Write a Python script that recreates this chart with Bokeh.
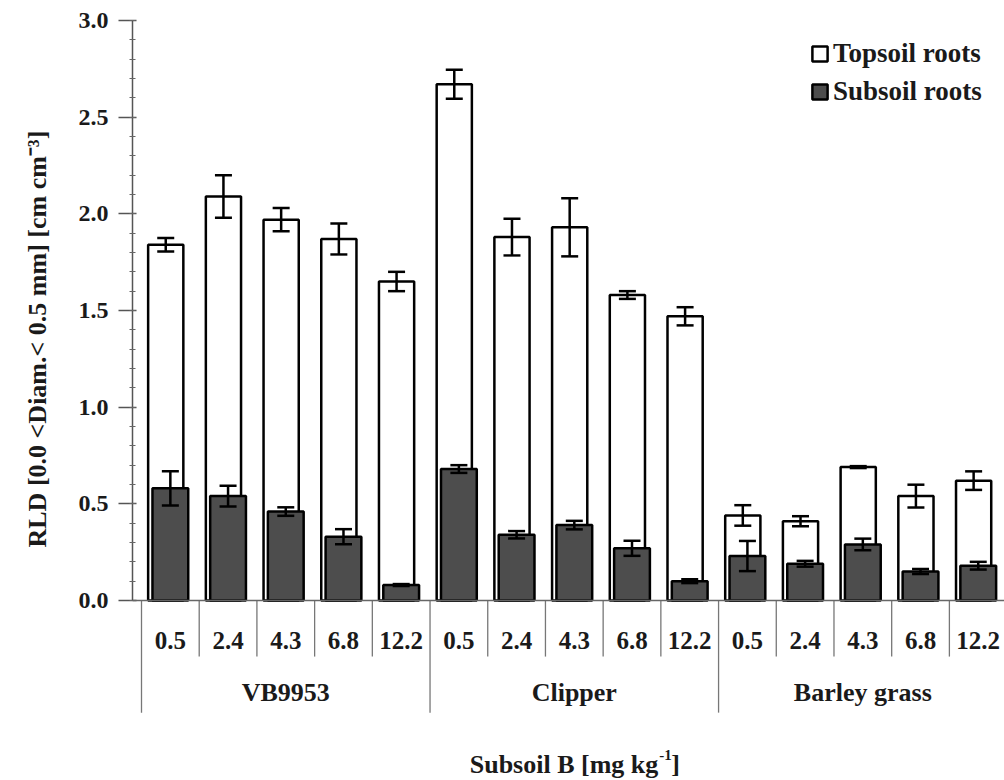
import numpy as np
from bokeh.plotting import figure
from bokeh.models import (Range1d, SingleIntervalTicker, NumeralTickFormatter, Span,
                          Whisker, TeeHead, ColumnDataSource, Legend, LegendItem, Title)
from bokeh.core.properties import value
from bokeh.embed import file_html
from bokeh.resources import INLINE

# Root length density (RLD) by cultivar and subsoil boron level
cultivars = ["VB9953", "Clipper", "Barley grass"]
b_levels = ["0.5", "2.4", "4.3", "6.8", "12.2"]

subsoil_vb9953 = [0.58, 0.54, 0.46, 0.33, 0.08]
subsoil_clipper = [0.68, 0.34, 0.39, 0.27, 0.10]
subsoil_barley = [0.23, 0.19, 0.29, 0.15, 0.18]

topsoil_vb9953 = [1.26, 1.55, 1.51, 1.54, 1.57]
topsoil_clipper = [1.99, 1.54, 1.54, 1.31, 1.37]
topsoil_barley = [0.21, 0.22, 0.40, 0.39, 0.44]

# standard errors of the whole-profile totals and of the subsoil part
se_total_vb9953 = [0.035, 0.11, 0.06, 0.08, 0.05]
se_total_clipper = [0.075, 0.095, 0.15, 0.02, 0.047]
se_total_barley = [0.053, 0.026, 0.005, 0.059, 0.048]

se_subsoil_vb9953 = [0.088, 0.054, 0.022, 0.039, 0.005]
se_subsoil_clipper = [0.02, 0.019, 0.022, 0.039, 0.01]
se_subsoil_barley = [0.078, 0.015, 0.03, 0.013, 0.02]

SERIF = "Liberation Serif"
INK = "#1a1a1a"
DARK = "#4d4d4d"

sub = np.array(subsoil_vb9953 + subsoil_clipper + subsoil_barley)
top = np.array(topsoil_vb9953 + topsoil_clipper + topsoil_barley)
total = sub + top
se_tot = np.array(se_total_vb9953 + se_total_clipper + se_total_barley)
se_sub = np.array(se_subsoil_vb9953 + se_subsoil_clipper + se_subsoil_barley)

n_lev = len(b_levels)
idx = np.arange(len(cultivars) * n_lev, dtype=float)
level_labels = b_levels * len(cultivars)
white_shift = -0.08

src = ColumnDataSource(dict(
    x=idx, xw=idx + white_shift, sub=sub, total=total,
    tot_lo=total - se_tot, tot_hi=total + se_tot,
    sub_lo=sub - se_sub, sub_hi=sub + se_sub,
))

p = figure(width=1004, height=780,
           x_range=Range1d(-0.656, 14.455), y_range=Range1d(-0.931, 3.1034),
           x_axis_type=None, output_backend="svg", toolbar_location=None,
           min_border_left=132, min_border_right=0, min_border_top=0, min_border_bottom=0)
p.ygrid.visible = False
p.outline_line_color = None
p.background_fill_color = "white"

# y axis
ax = p.yaxis[0]
ax.ticker = SingleIntervalTicker(interval=0.5, num_minor_ticks=5)
ax.formatter = NumeralTickFormatter(format="0.0")
ax.bounds = (0, 3)
ax.axis_line_color = "#555555"
ax.axis_line_width = 1.5
ax.major_tick_line_color = "#555555"
ax.major_tick_line_width = 1.5
ax.major_tick_out = 14
ax.major_tick_in = 4
ax.minor_tick_line_color = "#666666"
ax.minor_tick_line_width = 1.2
ax.minor_tick_out = 3
ax.minor_tick_in = 3
ax.major_label_standoff = 10
ax.major_label_text_font = SERIF
ax.major_label_text_font_style = "bold"
ax.major_label_text_font_size = "24px"
ax.major_label_text_color = INK

# y axis title, set in the left margin
p.add_layout(Title(text="RLD [0.0 <Diam.< 0.5 mm] [cm cm\u207b\u00b3]", align="left",
                   vertical_align="top", offset=233, standoff=44,
                   text_font=SERIF, text_font_style="bold",
                   text_font_size="26px", text_color=INK), "left")

# baseline
p.add_layout(Span(location=0, dimension="width", line_color="#666666", line_width=1.5))

# category separators below the baseline
bounds_x = np.arange(-0.5, len(idx) + 0.5, 1.0)
is_group = [(b + 0.5) % n_lev == 0 for b in bounds_x]
p.segment(x0=bounds_x, x1=bounds_x, y0=0,
          y1=[-0.58 if g else -0.29 for g in is_group],
          line_color="#777777", line_width=1.3)

# bars: topsoil (white, whole profile) with subsoil (dark) in front
white_r = p.vbar(x="xw", width=0.61, bottom=0, top="total", source=src,
                 fill_color="white", line_color="black", line_width=2.5)
dark_r = p.vbar(x="x", width=0.62, bottom=0, top="sub", source=src,
                fill_color=DARK, line_color="black", line_width=2.5)

for base, lo, hi in (("xw", "tot_lo", "tot_hi"), ("x", "sub_lo", "sub_hi")):
    w = Whisker(base=base, lower=lo, upper=hi, source=src, dimension="height",
                level="overlay", line_color="black", line_width=2.5,
                upper_head=TeeHead(size=17, line_color="black", line_width=2.5),
                lower_head=TeeHead(size=17, line_color="black", line_width=2.5))
    p.add_layout(w)

# category labels
p.text(x=idx, y=-0.205, text=level_labels, text_font=value(SERIF),
       text_font_style="bold", text_font_size="25px", text_color=INK,
       text_align="center", text_baseline="middle")
group_x = [(i * n_lev) + (n_lev - 1) / 2 for i in range(len(cultivars))]
p.text(x=group_x, y=-0.475, text=cultivars, text_font=value(SERIF),
       text_font_style="bold", text_font_size="26px", text_color=INK,
       text_align="center", text_baseline="middle")

# x axis title with superscript
mid = (len(idx) - 1) / 2
title_kw = dict(text_font=value(SERIF), text_font_style="bold", text_color=INK,
                text_baseline="middle")
p.text(x=[mid], y=[-0.85], text=["Subsoil B [mg kg"], text_align="right",
       x_offset=84, text_font_size="26px", **title_kw)
p.text(x=[mid], y=[-0.85], text=["-1"], text_align="left",
       x_offset=85, y_offset=-10, text_font_size="15px", **title_kw)
p.text(x=[mid], y=[-0.85], text=["]"], text_align="left",
       x_offset=97, text_font_size="26px", **title_kw)

# legend
legend = Legend(items=[LegendItem(label="Topsoil roots", renderers=[white_r]),
                       LegendItem(label="Subsoil roots", renderers=[dark_r])],
                location=(678, 673), glyph_width=19, glyph_height=19,
                label_text_font=SERIF, label_text_font_style="bold",
                label_text_font_size="27px", label_text_color=INK,
                label_standoff=4, spacing=7, padding=0, margin=0,
                border_line_color=None, background_fill_alpha=0)
p.add_layout(legend)

open("out.html", "w").write(file_html(p, INLINE))
